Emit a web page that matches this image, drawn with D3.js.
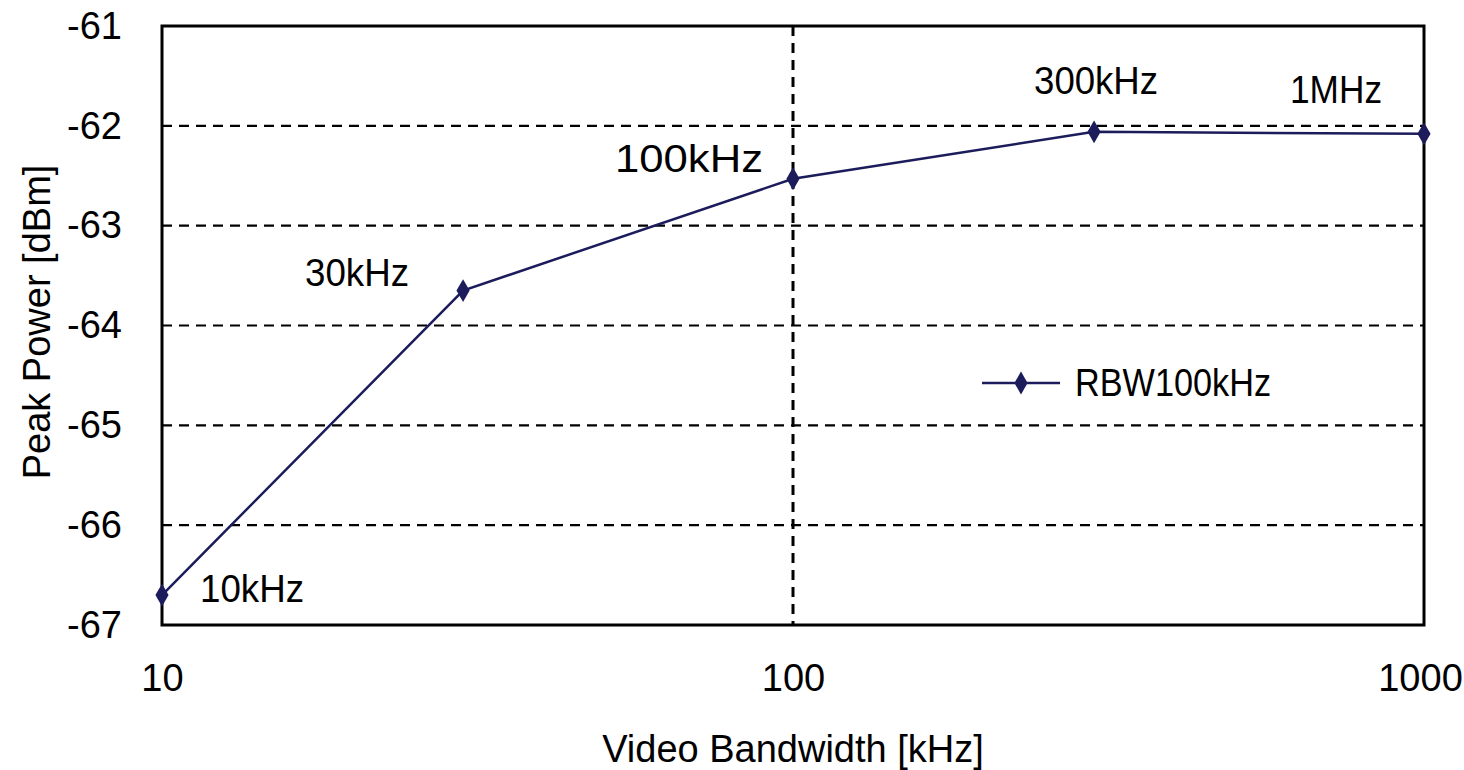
<!DOCTYPE html>
<html><head><meta charset="utf-8">
<script src="https://cdn.jsdelivr.net/npm/d3@7"></script>
<style>body{margin:0;background:#fff}svg text{font-family:"Liberation Sans",Arial,sans-serif;fill:#000}</style>
</head><body><svg id="c" width="1464" height="770"></svg>
<script>
const vbw = [10, 30, 100, 300, 1000];
const peak = [-66.7, -63.65, -62.53, -62.06, -62.08];
const pointLabels = ["10kHz", "30kHz", "100kHz", "300kHz", "1MHz"];
const yTicks = [-61, -62, -63, -64, -65, -66, -67];
const xTicks = [10, 100, 1000];
const seriesName = "RBW100kHz";

const svg = d3.select("#c");
const L = 162, R = 1424, T = 26, B = 625;
const x = d3.scaleLog().domain([10, 1000]).range([L, R]);
const y = d3.scaleLinear().domain([-67, -61]).range([B, T]);
const fs = 38;

// horizontal grid
svg.append("g").selectAll("line").data(yTicks.filter(d => d !== -61 && d !== -67)).join("line")
  .attr("x1", L).attr("x2", R).attr("y1", d => y(d)).attr("y2", d => y(d))
  .attr("stroke", "#000").attr("stroke-width", 2.2).attr("stroke-dasharray", "10,7");
// vertical grid at 100
svg.append("g").selectAll("line").data([100]).join("line")
  .attr("x1", d => x(d)).attr("x2", d => x(d)).attr("y1", T).attr("y2", B)
  .attr("stroke", "#000").attr("stroke-width", 3).attr("stroke-dasharray", "10,7");

// frame
svg.append("rect").attr("x", L).attr("y", T).attr("width", R - L).attr("height", B - T)
  .attr("fill", "none").attr("stroke", "#000").attr("stroke-width", 3);

// axes
const yAxis = d3.axisLeft(y).tickValues(yTicks).tickSize(0).tickPadding(40).tickFormat(d => "-" + Math.abs(d));
const gy = svg.append("g").attr("transform", `translate(${L},0)`).call(yAxis);
gy.select(".domain").remove();
gy.selectAll("text").attr("font-size", fs).attr("font-family", "Liberation Sans, Arial, sans-serif").attr("fill", "#000");

const xAxis = d3.axisBottom(x).tickValues(xTicks).tickSize(0).tickPadding(39).tickFormat(d3.format("d"));
const gx = svg.append("g").attr("transform", `translate(0,${B})`).call(xAxis);
gx.select(".domain").remove();
gx.selectAll("text").attr("font-size", fs).attr("font-family", "Liberation Sans, Arial, sans-serif").attr("fill", "#000");
gx.selectAll(".tick").filter(d => d === 1000).select("text").attr("dx", -4);

// titles
svg.append("text").attr("x", 793).attr("y", 762).attr("text-anchor", "middle").attr("font-size", fs).text("Video Bandwidth [kHz]");
svg.append("text").attr("transform", "translate(50,322) rotate(-90)").attr("text-anchor", "middle").attr("font-size", fs).text("Peak Power [dBm]");

// series
const data = vbw.map((v, i) => ({x: v, y: peak[i], label: pointLabels[i]}));
const col = "#1c1c5c";
svg.append("path").datum(data).attr("fill", "none").attr("stroke", col).attr("stroke-width", 2.5)
  .attr("d", d3.line().x(d => x(d.x)).y(d => y(d.y)));
const sym = d3.symbol().type(d3.symbolDiamond).size(150);
svg.append("g").selectAll("path").data(data).join("path")
  .attr("transform", d => `translate(${x(d.x)},${y(d.y)})`).attr("d", sym).attr("fill", col);

// point labels
const lblOff = [[38, -6], [-158, -18], [-178, -20], [-60, -51], [-134, -44]];
svg.append("g").selectAll("text").data(data).join("text")
  .attr("x", (d, i) => x(d.x) + lblOff[i][0]).attr("y", (d, i) => y(d.y) + lblOff[i][1] + 13)
  .attr("font-size", fs).attr("lengthAdjust", "spacingAndGlyphs")
  .attr("textLength", (d, i) => [104, 104, 148, 124, 92][i]).text(d => d.label);

// legend
const lg = svg.append("g").attr("transform", "translate(982,383)");
lg.append("line").attr("x1", 0).attr("x2", 78).attr("y1", 0).attr("y2", 0).attr("stroke", col).attr("stroke-width", 2.5);
lg.append("path").attr("transform", "translate(39,0)").attr("d", sym).attr("fill", col);
lg.append("text").attr("x", 93).attr("y", 13).attr("font-size", fs).attr("lengthAdjust", "spacingAndGlyphs")
  .attr("textLength", 196).text(seriesName);
</script></body></html>
